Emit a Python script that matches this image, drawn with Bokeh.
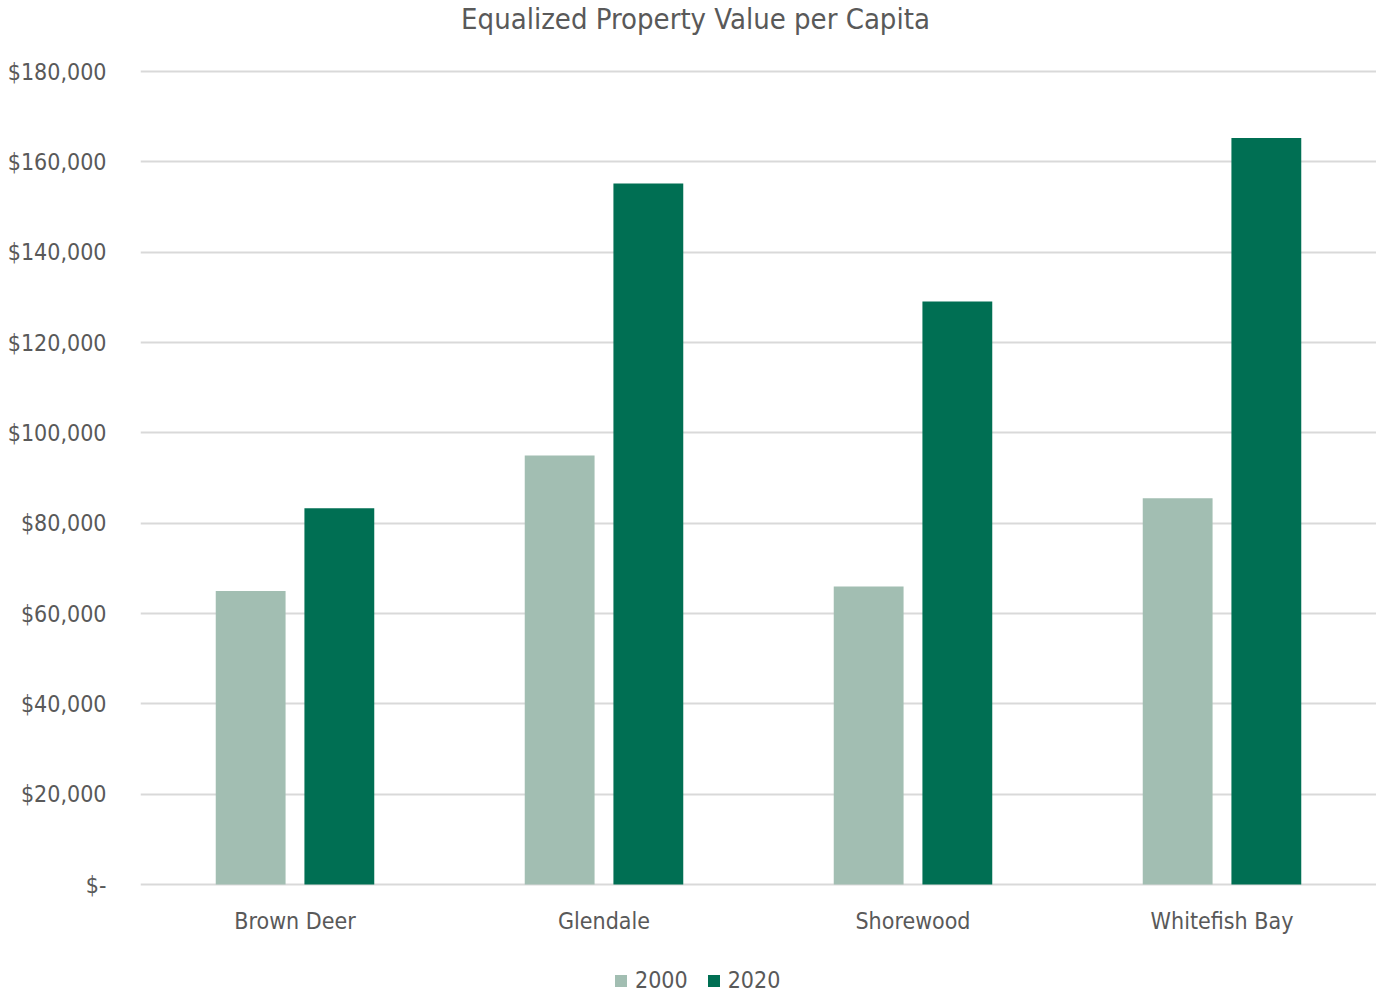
from bokeh.plotting import figure
from bokeh.models import (FactorRange, Range1d, FixedTicker, NumeralTickFormatter, Legend,
                          LegendItem, ColumnDataSource, Label, LabelSet)
from bokeh.core.properties import value
from bokeh.transform import dodge
from bokeh.embed import file_html
from bokeh.resources import INLINE

towns = ["Brown Deer", "Glendale", "Shorewood", "Whitefish Bay"]
val_2000 = [65000, 95000, 66000, 85500]
val_2020 = [83300, 155200, 129100, 165300]
y_ticks = [0, 20000, 40000, 60000, 80000, 100000, 120000, 140000, 160000, 180000]
title_text = "Equalized Property Value per Capita"

FONT = "DejaVu Sans Condensed"
TXT = "#595959"
C2000 = "#A2BEB2"
C2020 = "#006F53"

# the frame covers the whole canvas height; the value axis runs from y=884 (0) to y=71 (180,000)
FRAME_H = 993
PX_PER_UNIT = 813 / 180000
y_top = 884 / PX_PER_UNIT
y_bottom = -(FRAME_H - 884) / PX_PER_UNIT

src = ColumnDataSource(dict(town=towns, v2000=val_2000, v2020=val_2020))

p = figure(x_range=FactorRange(*towns, range_padding=0), y_range=Range1d(y_bottom, y_top),
           frame_width=1236, frame_height=FRAME_H, min_border_left=140, min_border_right=0,
           min_border_top=0, min_border_bottom=0,
           output_backend="svg", toolbar_location=None)
p.outline_line_color = None
p.background_fill_color = "white"
p.border_fill_color = "white"

p.add_layout(Label(x=555, y=FRAME_H - 18, x_units="screen", y_units="screen",
                   text=title_text, text_align="center", text_baseline="middle",
                   text_font=FONT, text_font_size="29px", text_color=TXT))

r1 = p.vbar(x=dodge("town", -0.1435, range=p.x_range), top="v2000", width=0.226,
            source=src, fill_color=C2000, line_color=None)
r2 = p.vbar(x=dodge("town", 0.1435, range=p.x_range), top="v2020", width=0.226,
            source=src, fill_color=C2020, line_color=None)

p.xgrid.grid_line_color = None
p.ygrid.grid_line_color = "#D9D9D9"
p.ygrid.grid_line_width = 2
p.ygrid.ticker = FixedTicker(ticks=y_ticks)

p.xaxis.visible = False

p.yaxis.ticker = FixedTicker(ticks=y_ticks)
p.yaxis.formatter = NumeralTickFormatter(format="$0,0")
p.yaxis.major_label_overrides = {0: "$-"}
ax = p.yaxis[0]
ax.axis_line_color = None
ax.major_tick_line_color = None
ax.minor_tick_line_color = None
ax.major_tick_out = 0
ax.major_tick_in = 0
ax.major_label_text_font = FONT
ax.major_label_text_font_size = "23px"
ax.major_label_text_color = TXT
ax.major_label_standoff = 34

# category labels under the bars
p.add_layout(LabelSet(x="town", y=FRAME_H - 920, y_units="screen", text="town", source=src,
                      text_align="center", text_baseline="middle",
                      text_font=value(FONT), text_font_size=value("23px"), text_color=TXT))

legend = Legend(items=[LegendItem(label="2000", renderers=[r1]),
                       LegendItem(label="2020", renderers=[r2])],
                orientation="horizontal", location=(473, 0),
                glyph_width=15, glyph_height=15, label_standoff=7, spacing=18,
                label_text_font=FONT, label_text_font_size="23px", label_text_color=TXT,
                border_line_color=None, background_fill_alpha=0, margin=0, padding=2)
p.add_layout(legend, "center")

open("out.html", "w").write(file_html(p, INLINE))
